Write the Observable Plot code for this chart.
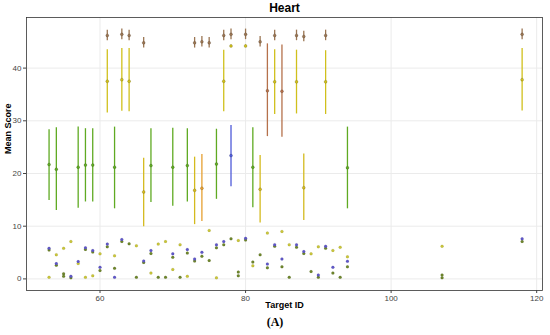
<!DOCTYPE html>
<html>
<head>
<meta charset="utf-8">
<script src="https://cdn.jsdelivr.net/npm/d3@7"></script>
<script src="https://cdn.jsdelivr.net/npm/@observablehq/plot@0.6"></script>
<style>
  html, body { margin: 0; padding: 0; background: #fff; }
  #wrap { position: relative; width: 550px; height: 335px; font-family: "Liberation Sans", Arial, sans-serif; }
  #chart { position: absolute; left: 0; top: 0; }
  #caption { position: absolute; left: 0; width: 550px; top: 315px; text-align: center;
             font-family: "Liberation Serif", "DejaVu Serif", serif; font-weight: bold; font-size: 12px; }
</style>
</head>
<body>
<div id="wrap"><div id="chart"></div><div id="caption"></div></div>
<script>
const titleText = "Heart";
const xLabel = "Target ID";
const yLabel = "Mean Score";
const captionText = "(A)";
const xTicks = [60, 80, 100, 120];
const yTicks = [0, 10, 20, 30, 40];

// top brown series
const brownIds  = [61, 63, 64, 66, 73, 74, 75, 77, 78, 80, 82, 84, 87, 88, 91, 118];
const brownMean = [46.2, 46.4, 46.2, 44.8, 44.8, 45.0, 44.8, 46.2, 46.4, 46.4, 45.0, 46.2, 46.2, 46.0, 46.2, 46.4];
const brownLo   = [45.2, 45.4, 45.2, 43.8, 43.8, 44.0, 43.8, 45.2, 45.4, 45.4, 44.0, 45.2, 45.2, 45.0, 45.2, 45.4];
const brownHi   = [47.2, 47.4, 47.2, 45.8, 45.8, 46.0, 45.8, 47.2, 47.4, 47.4, 46.0, 47.2, 47.2, 47.0, 47.2, 47.4];

// gold high series
const goldIds  = [61, 63, 64, 77, 78, 80, 84, 87, 91, 118];
const goldMean = [37.5, 37.8, 37.5, 37.5, 44.2, 44.2, 37.4, 37.4, 37.4, 37.8];
const goldLo   = [31.5, 31.8, 31.7, 31.7, 44.0, 44.0, 31.2, 31.3, 31.2, 31.85];
const goldHi   = [43.5, 43.7, 43.7, 43.4, 44.4, 44.4, 43.5, 43.4, 43.3, 43.7];

// sienna series
const siennaIds  = [83, 85];
const siennaMean = [35.7, 35.6];
const siennaLo   = [27.0, 26.9];
const siennaHi   = [44.6, 44.4];

// green series
const greenIds  = [53, 54, 57, 58, 59, 62, 67, 70, 72, 76, 81, 94];
const greenMean = [21.7, 20.8, 21.2, 21.6, 21.6, 21.2, 21.5, 21.2, 21.5, 21.8, 21.2, 21.1];
const greenLo   = [14.9, 13.0, 13.4, 14.6, 14.6, 13.3, 14.5, 13.8, 14.6, 15.1, 13.5, 13.3];
const greenHi   = [28.3, 28.7, 28.8, 28.5, 28.5, 28.8, 28.5, 28.6, 28.5, 28.4, 28.7, 28.8];

// blue series
const blueIds  = [78];
const blueMean = [23.4];
const blueLo   = [17.5];
const blueHi   = [29.1];

// gold mid series
const midIds  = [66, 73, 82, 88];
const midMean = [16.5, 16.8, 17.0, 17.3];
const midLo   = [9.9, 10.3, 10.6, 11.1];
const midHi   = [22.9, 23.1, 23.4, 23.7];

// orange series
const orangeIds  = [74];
const orangeMean = [17.2];
const orangeLo   = [10.9];
const orangeHi   = [23.6];

// bottom points
const purpleIds  = [53, 54, 56, 57, 58, 59, 60, 61, 62, 63, 66, 67, 70, 72, 73, 74, 76, 77, 80, 83, 84, 85, 87, 88, 90, 91, 92, 94, 118];
const purpleVals = [5.8, 2.9, 0.5, 3.3, 5.9, 5.4, 2.2, 6.6, 0.3, 7.5, 3.4, 5.4, 4.75, 5.6, 3.8, 5.05, 6.5, 7.1, 7.7, 2.85, 6.5, 3.8, 6.5, 5.2, 0.75, 6.2, 2.2, 3.35, 7.6];

const oliveIds  = [53, 54, 55, 55, 56, 58, 59, 60, 61, 62, 63, 64, 65, 66, 67, 68, 69, 70, 71, 72, 73, 74, 75, 76, 77, 78, 79, 79, 80, 81, 82, 83, 84, 85, 86, 87, 88, 89, 90, 91, 92, 93, 94, 107, 107, 118];
const oliveVals = [5.5, 2.6, 1.0, 0.5, 0.2, 5.6, 5.1, 1.6, 6.1, 2.0, 7.1, 6.65, 0.3, 3.1, 4.8, 0.3, 0.3, 4.1, 0.3, 4.9, 3.4, 4.3, 3.5, 5.9, 6.5, 7.6, 1.3, 0.6, 7.4, 3.2, 4.6, 2.1, 6.2, 2.3, 0.3, 6.0, 4.8, 1.4, 0.3, 5.8, 1.1, 0.3, 2.3, 0.75, 0.2, 7.1];

const yellowIds  = [53, 54, 55, 56, 57, 58, 59, 60, 62, 65, 67, 68, 69, 70, 71, 72, 75, 76, 79, 81, 83, 85, 86, 89, 90, 92, 93, 94, 107];
const yellowVals = [0.3, 4.6, 5.8, 7.1, 2.9, 0.3, 0.6, 4.75, 4.4, 6.3, 1.1, 6.6, 7.1, 1.8, 6.5, 0.5, 9.2, 0.2, 7.3, 2.5, 8.7, 9.0, 6.5, 4.75, 6.1, 5.4, 6.0, 4.2, 6.2];

const colors = {
  brown: "#9B7653", gold: "#D0C01C", sienna: "#B5714B", green: "#5FAA22",
  blue: "#4E5BD9", mid: "#D4BA1E", orange: "#E6A030",
  purple: "#5F57C9", olive: "#6E862C", yellow: "#C9C53A"
};

function ranged(ids, mean, lo, hi, key) {
  return ids.map((id, i) => ({id, mean: mean[i], lo: lo[i], hi: hi[i], key}));
}
function pts(ids, vals, key) {
  return ids.map((id, i) => ({id, mean: vals[i], key}));
}

const ranges = [
  ...ranged(greenIds, greenMean, greenLo, greenHi, "green"),
  ...ranged(midIds, midMean, midLo, midHi, "mid"),
  ...ranged(orangeIds, orangeMean, orangeLo, orangeHi, "orange"),
  ...ranged(blueIds, blueMean, blueLo, blueHi, "blue"),
  ...ranged(goldIds, goldMean, goldLo, goldHi, "gold"),
  ...ranged(siennaIds, siennaMean, siennaLo, siennaHi, "sienna"),
  ...ranged(brownIds, brownMean, brownLo, brownHi, "brown")
];
const bottom = [
  ...pts(yellowIds, yellowVals, "yellow"),
  ...pts(oliveIds, oliveVals, "olive"),
  ...pts(purpleIds, purpleVals, "purple")
];

const chart = Plot.plot({
  width: 550,
  height: 312,
  marginTop: 17,
  marginBottom: 22,
  marginLeft: 26,
  marginRight: 8,
  style: {fontFamily: "'Liberation Sans', Arial, sans-serif", background: "#fff"},
  x: {domain: [49.9, 120.8], label: null},
  y: {domain: [-2.2, 49.6], label: null},
  marks: [
    Plot.gridX(xTicks, {stroke: "#ebebeb", strokeOpacity: 1}),
    Plot.gridY(yTicks, {stroke: "#ebebeb", strokeOpacity: 1}),
    Plot.ruleX(ranges, {x: "id", y1: "lo", y2: "hi", stroke: d => colors[d.key], strokeWidth: 1.3}),
    Plot.dot(ranges, {x: "id", y: "mean", r: 1.5, fill: d => colors[d.key], stroke: "#000", strokeOpacity: 0.3, strokeWidth: 0.5}),
    Plot.dot(bottom, {x: "id", y: "mean", r: 1.5, fill: d => colors[d.key], stroke: "#000", strokeOpacity: 0.15, strokeWidth: 0.4}),
    Plot.frame({stroke: "#333", strokeWidth: 0.8}),
    Plot.axisX(xTicks, {tickSize: 3, tickPadding: 2, fontSize: 8, color: "#444", label: null}),
    Plot.axisY(yTicks, {tickSize: 3, tickPadding: 2, fontSize: 8, color: "#444", label: null}),
    Plot.text([titleText], {frameAnchor: "top", lineAnchor: "middle", dy: -9, fontWeight: "bold", fontSize: 12, fill: "#000"}),
    Plot.text([xLabel], {frameAnchor: "bottom", lineAnchor: "middle", dy: 15, fontWeight: "bold", fontSize: 9, fill: "#000"}),
    Plot.text([yLabel], {frameAnchor: "left", lineAnchor: "middle", dx: -18, rotate: -90, fontWeight: "bold", fontSize: 9, fill: "#000"})
  ]
});
document.getElementById("chart").appendChild(chart);
document.getElementById("caption").textContent = captionText;
</script>
</body>
</html>
